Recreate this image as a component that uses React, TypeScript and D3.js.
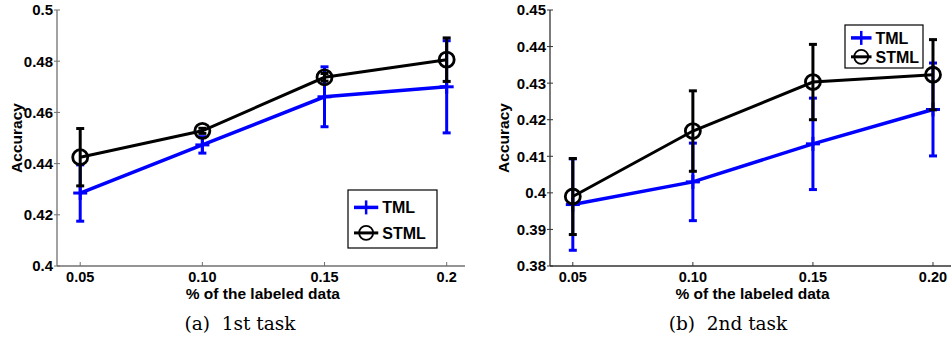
import * as d3 from 'd3';

// shared x positions (% of labeled data)
const xValues = [0.05, 0.10, 0.15, 0.20];

// panel (a) 1st task
const tmlA = [0.4285, 0.4473, 0.4661, 0.4700];
const tmlErrA = [0.0110, 0.0032, 0.0117, 0.0180];
const stmlA = [0.4425, 0.4528, 0.4737, 0.4806];
const stmlErrA = [0.0112, 0.0010, 0.0015, 0.0085];
const yTicksA = [0.4, 0.42, 0.44, 0.46, 0.48, 0.5];
const xLabelsA = ['0.05', '0.10', '0.15', '0.2'];

// panel (b) 2nd task
const tmlB = [0.3968, 0.4030, 0.4134, 0.4228];
const tmlErrB = [0.0125, 0.0106, 0.0125, 0.0127];
const stmlB = [0.3990, 0.4169, 0.4303, 0.4323];
const stmlErrB = [0.0104, 0.0110, 0.0103, 0.0096];
const yTicksB = [0.38, 0.39, 0.4, 0.41, 0.42, 0.43, 0.44, 0.45];
const xLabelsB = ['0.05', '0.10', '0.15', '0.20'];

const BLUE = '#0000ff';
const AXIS_FONT = '"Liberation Sans", Arial, sans-serif';

interface PanelProps {
  left: number;
  right: number;
  yDomain: [number, number];
  yTicks: number[];
  xLabels: string[];
  tml: number[];
  tmlErr: number[];
  stml: number[];
  stmlErr: number[];
  legend: { x: number; y: number; w: number; h: number };
  yLabelX: number;
  axisColor: string;
  caption: string;
  captionX: number;
}

function Panel(p: PanelProps) {
  const top = 10;
  const bottom = 266;
  const x = d3.scaleLinear().domain([0.0405, 0.2075]).range([p.left, p.right]);
  const y = d3.scaleLinear().domain(p.yDomain).range([bottom, top]);
  const line = d3
    .line<number>()
    .x((_, i) => x(xValues[i]))
    .y((d) => y(d));

  const errBars = (vals: number[], errs: number[], color: string, w: number) =>
    vals.map((v, i) => {
      const cx = x(xValues[i]);
      const y0 = y(v - errs[i]);
      const y1 = y(v + errs[i]);
      return (
        <g key={i} stroke={color} strokeWidth={w}>
          <line x1={cx} x2={cx} y1={y0} y2={y1} />
          <line x1={cx - 4} x2={cx + 4} y1={y0} y2={y0} />
          <line x1={cx - 4} x2={cx + 4} y1={y1} y2={y1} />
        </g>
      );
    });

  const lg = p.legend;
  const row1 = lg.y + lg.h * 0.3;
  const row2 = lg.y + lg.h * 0.74;
  const lx0 = lg.x + 6;
  const lx1 = lg.x + lg.w * 0.34;
  const lmid = (lx0 + lx1) / 2;

  return (
    <g fontFamily={AXIS_FONT} fontWeight="bold">
      {/* axes */}
      <line x1={p.left} x2={p.left} y1={top} y2={bottom} stroke={p.axisColor} strokeWidth={1.3} />
      <line x1={p.left} x2={p.right} y1={bottom} y2={bottom} stroke={p.axisColor} strokeWidth={1.3} />
      {p.yTicks.map((t) => (
        <g key={t}>
          <line x1={p.left - 3} x2={p.left + 3} y1={y(t)} y2={y(t)} stroke={p.axisColor} />
          <text x={p.left - 4} y={y(t)} dy="0.36em" textAnchor="end" fontSize={15}>
            {String(t)}
          </text>
        </g>
      ))}
      {xValues.map((v, i) => (
        <g key={v}>
          <line x1={x(v)} x2={x(v)} y1={bottom} y2={bottom - 4} stroke={p.axisColor} />
          <text x={x(v)} y={281.5} textAnchor="middle" fontSize={14.5}>
            {p.xLabels[i]}
          </text>
        </g>
      ))}
      <text x={(p.left + x(0.2)) / 2 + 11} y={299} textAnchor="middle" fontSize={15.5}>
        % of the labeled data
      </text>
      <text
        transform={`translate(${p.yLabelX},${(top + bottom) / 2}) rotate(-90)`}
        textAnchor="middle"
        dy="0.36em"
        fontSize={15.5}
      >
        Accuracy
      </text>

      {/* TML */}
      <path d={line(p.tml) || ''} fill="none" stroke={BLUE} strokeWidth={3.5} />
      {errBars(p.tml, p.tmlErr, BLUE, 3)}
      {p.tml.map((v, i) => (
        <g key={i} stroke={BLUE} strokeWidth={3}>
          <line x1={x(xValues[i]) - 7} x2={x(xValues[i]) + 7} y1={y(v)} y2={y(v)} />
          <line x1={x(xValues[i])} x2={x(xValues[i])} y1={y(v) - 7} y2={y(v) + 7} />
        </g>
      ))}

      {/* STML */}
      <path d={line(p.stml) || ''} fill="none" stroke="#000" strokeWidth={3} />
      {errBars(p.stml, p.stmlErr, '#000', 3)}
      {p.stml.map((v, i) => (
        <circle key={i} cx={x(xValues[i])} cy={y(v)} r={7.5} fill="none" stroke="#000" strokeWidth={2.8} />
      ))}

      {/* legend */}
      <rect x={lg.x} y={lg.y} width={lg.w} height={lg.h} fill="#fff" stroke="#000" strokeWidth={1.2} />
      <line x1={lx0} x2={lx1} y1={row1} y2={row1} stroke={BLUE} strokeWidth={3.5} />
      <line x1={lmid} x2={lmid} y1={row1 - 7} y2={row1 + 7} stroke={BLUE} strokeWidth={2.5} />
      <text x={lx1 + 4} y={row1} dy="0.36em" fontSize={16}>TML</text>
      <line x1={lx0} x2={lx1} y1={row2} y2={row2} stroke="#000" strokeWidth={3} />
      <circle cx={lmid} cy={row2} r={7} fill="none" stroke="#000" strokeWidth={1.8} />
      <text x={lx1 + 4} y={row2} dy="0.36em" fontSize={16}>STML</text>

      {/* caption */}
      <text
        x={p.captionX}
        y={330}
        textAnchor="middle"
        fontFamily='"DejaVu Serif", "Liberation Serif", serif'
        fontWeight="normal"
        fontSize={18.5}
        xmlSpace="preserve"
      >
        {p.caption}
      </text>
    </g>
  );
}

export default function App() {
  return (
    <svg
      width={951}
      height={343}
      style={{ position: 'absolute', left: 0, top: 0, background: '#fff' }}
    >
      <Panel
        left={57}
        right={465}
        yDomain={[0.4, 0.5]}
        yTicks={yTicksA}
        xLabels={xLabelsA}
        tml={tmlA}
        tmlErr={tmlErrA}
        stml={stmlA}
        stmlErr={stmlErrA}
        legend={{ x: 348, y: 190, w: 89, h: 58 }}
        yLabelX={16}
        axisColor="#707070"
        caption="(a)  1st task"
        captionX={240}
      />
      <Panel
        left={550}
        right={951}
        yDomain={[0.38, 0.45]}
        yTicks={yTicksB}
        xLabels={xLabelsB}
        tml={tmlB}
        tmlErr={tmlErrB}
        stml={stmlB}
        stmlErr={stmlErrB}
        legend={{ x: 845, y: 25, w: 78, h: 43 }}
        yLabelX={503}
        axisColor="#333"
        caption="(b)  2nd task"
        captionX={728}
      />
    </svg>
  );
}
